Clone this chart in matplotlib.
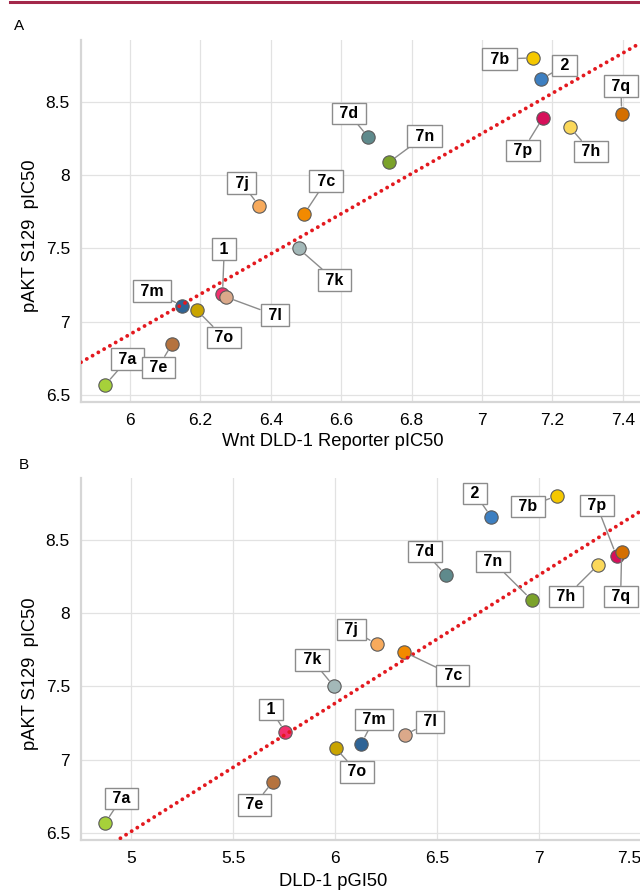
import matplotlib
matplotlib.use("Agg")
import matplotlib.pyplot as plt
from matplotlib.lines import Line2D
import numpy as np

plt.rcParams['font.family'] = ['Liberation Sans', 'DejaVu Sans']

# compounds, drawn in this order
names = ['1', '2', '7a', '7b', '7c', '7d', '7e', '7h', '7j', '7k', '7l', '7m', '7n', '7o', '7p', '7q']
colors = ['#f2306e', '#3d7fc1', '#a6d13a', '#f5c800', '#f28a00', '#5f8a8c', '#b5733f', '#fbd85a',
          '#f7aa5c', '#a3b8b8', '#dba98a', '#2f6496', '#7ba22a', '#c9a400', '#d6105a', '#d46f00']

# y values (pAKT S129 pIC50)
pakt = [7.19, 8.655, 6.57, 8.80, 7.735, 8.26, 6.85, 8.33, 7.79, 7.50, 7.17, 7.11, 8.09, 7.08, 8.39, 8.42]
# panel A x values (Wnt DLD-1 reporter pIC50)
wnt = [6.263, 7.169, 5.93, 7.146, 6.495, 6.677, 6.12, 7.249, 6.367, 6.479, 6.272, 6.149, 6.737, 6.19, 7.173, 7.397]
# panel B x values (DLD-1 pGI50)
pgi = [5.756, 6.766, 4.874, 7.087, 6.34, 6.544, 5.695, 7.29, 6.204, 5.995, 6.343, 6.129, 6.964, 6.003, 7.38, 7.405]

# label box positions (data coords)
lab_a_x = [6.268, 7.235, 5.994, 7.050, 6.557, 6.622, 6.080, 7.310, 6.318, 6.582, 6.412, 6.0625, 6.837, 6.267, 7.116, 7.395]
lab_a_y = [7.496, 8.748, 6.746, 8.792, 7.960, 8.420, 6.688, 8.161, 7.946, 7.284, 7.046, 7.209, 8.267, 6.892, 8.168, 8.608]
lab_b_x = [5.686, 6.685, 4.953, 6.946, 6.578, 6.439, 5.605, 7.132, 6.081, 5.887, 6.466, 6.191, 6.775, 6.108, 7.284, 7.400]
lab_b_y = [7.341, 8.818, 6.737, 8.726, 7.576, 8.419, 6.693, 8.112, 7.887, 7.682, 7.259, 7.276, 8.351, 6.918, 8.733, 8.112]

# trend lines (slope, intercept)
fit_a = (1.37, 6.724 - 1.37 * 5.861)
fit_b = (0.875, 6.477 - 0.875 * 4.962)

W, H = 640, 892
fig = plt.figure(figsize=(W / 100, H / 100), dpi=100)

# maroon rule at the top
fig.add_artist(Line2D([10 / W, 1], [1 - 1.5 / H, 1 - 1.5 / H], color='#a3274a', lw=2.2))


def panel(top, xs, xlim, xticks, fit, labx, laby):
    ax = fig.add_axes([81 / W, 1 - (top + 362) / H, (660 - 81) / W, 362 / H])
    ax.set_xlim(*xlim)
    ax.set_ylim(6.453, 8.922)
    ax.set_xticks(xticks)
    ax.set_xticklabels([('%g' % t) for t in xticks])
    ax.set_yticks([6.5, 7, 7.5, 8, 8.5])
    ax.set_yticklabels(['6.5', '7', '7.5', '8', '8.5'])
    ax.tick_params(length=0, labelsize=12.5, pad=8)
    ax.grid(True, color='#e2e2e2', lw=0.9)
    ax.set_axisbelow(True)
    for s in ['top', 'right']:
        ax.spines[s].set_visible(False)
    for s in ['left', 'bottom']:
        ax.spines[s].set_color('#d6d6d6')
        ax.spines[s].set_linewidth(1.6)

    xx = np.array(xlim)
    ax.plot(xx, fit[0] * xx + fit[1], color='#e3191f', lw=2.8,
            linestyle=(0, (0.01, 1.7)), dash_capstyle='round', zorder=4)

    for i in range(len(names)):
        ax.scatter(xs[i], pakt[i], s=92, color=colors[i], edgecolors='#5a5a5a', linewidths=0.8, zorder=3)
        ax.annotate(' ' + names[i] + ' ', xy=(xs[i], pakt[i]), xytext=(labx[i], laby[i]),
                    ha='center', va='center', fontsize=11.5, fontweight='bold', zorder=5,
                    bbox=dict(boxstyle='square,pad=0.2', fc='white', ec='#8c8c8c', lw=1),
                    arrowprops=dict(arrowstyle='-', color='#8c8c8c', lw=1, shrinkA=0, shrinkB=5.5))
    return ax


panel(40, wnt, (5.861, 7.506), [6, 6.2, 6.4, 6.6, 6.8, 7, 7.2, 7.4], fit_a, lab_a_x, lab_a_y)
axb = panel(478, pgi, (4.755, 7.593), [5, 5.5, 6, 6.5, 7, 7.5], fit_b, lab_b_x, lab_b_y)
# last tick label sits at the right edge of the figure
axb.get_xticklabels()[-1].set_ha('right')

fig.text(19 / W, 1 - 26 / H, 'A', fontsize=11, ha='center', va='center')
fig.text(24 / W, 1 - 465 / H, 'B', fontsize=11, ha='center', va='center')
fig.text(333 / W, 1 - 442 / H, 'Wnt DLD-1 Reporter pIC50', fontsize=13.2, ha='center', va='center')
fig.text(333 / W, 1 - 882 / H, 'DLD-1 pGI50', fontsize=13.2, ha='center', va='center')
fig.text(31 / W, 1 - 236 / H, 'pAKT S129  pIC50', fontsize=13.2, ha='center', va='center', rotation=90)
fig.text(31 / W, 1 - 674 / H, 'pAKT S129  pIC50', fontsize=13.2, ha='center', va='center', rotation=90)

fig.savefig('out.png', dpi=100)
